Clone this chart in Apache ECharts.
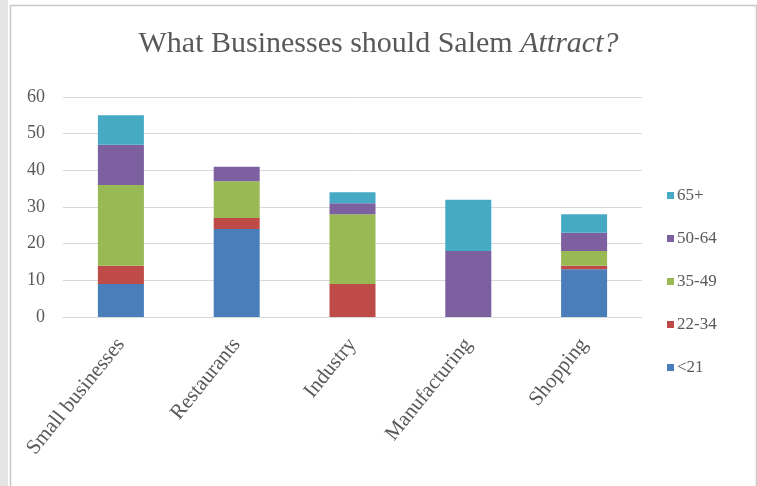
<!DOCTYPE html>
<html>
<head>
<meta charset="utf-8">
<script src="https://cdn.jsdelivr.net/npm/echarts@6/dist/echarts.min.js"></script>
<style>
  html, body { margin: 0; padding: 0; background: #ffffff; }
  #chart { width: 757px; height: 486px; }
</style>
</head>
<body>
<div id="chart"></div>
<script>
// Survey answers by age group
const categories = ['Small businesses', 'Restaurants', 'Industry', 'Manufacturing', 'Shopping'];
const under21 = [9, 24, 0, 0, 13];
const age22to34 = [5, 3, 9, 0, 1];
const age35to49 = [22, 10, 19, 0, 4];
const age50to64 = [11, 4, 3, 18, 5];
const age65plus = [8, 0, 3, 14, 5];
const seriesNames = ['<21', '22-34', '35-49', '50-64', '65+'];
const yTicks = [0, 10, 20, 30, 40, 50, 60];

const colors = ['#4A7EBB', '#BE4B48', '#98B954', '#7D60A0', '#46AAC5'];
const textColor = '#595959';
const serif = '"Liberation Serif", "DejaVu Serif", serif';

const chart = echarts.init(document.getElementById('chart'));
const values = [under21, age22to34, age35to49, age50to64, age65plus];

chart.setOption({
  animation: false,
  graphic: [
    { type: 'rect', left: 0, top: 0, shape: { width: 8, height: 486 }, style: { fill: '#e4e4e4' }, silent: true },
    { type: 'rect', left: 8, top: 3, shape: { width: 746, height: 490 }, style: { fill: 'none', stroke: '#c8c8c8', lineWidth: 1.5 }, silent: true }
  ],
  title: {
    text: 'What Businesses should Salem {i|Attract?}',
    left: 'center',
    top: 24,
    textStyle: {
      fontFamily: serif,
      fontSize: 30,
      fontWeight: 'normal',
      color: textColor,
      rich: { i: { fontFamily: serif, fontSize: 30, fontStyle: 'italic', color: textColor } }
    }
  },
  legend: {
    orient: 'vertical',
    left: 662,
    top: 182,
    itemWidth: 7,
    itemHeight: 7,
    itemGap: 26,
    icon: 'rect',
    data: ['65+', '50-64', '35-49', '22-34', '<21'],
    textStyle: { fontFamily: serif, fontSize: 17, color: textColor, padding: [0, 0, 0, -2] }
  },
  grid: { left: 63, right: 115, top: 97, bottom: 169, containLabel: false },
  xAxis: {
    type: 'category',
    data: categories,
    axisLine: { lineStyle: { color: '#d9d9d9', width: 1 } },
    axisTick: { show: false },
    axisLabel: {
      rotate: 51,
      margin: 24,
      fontFamily: serif,
      fontSize: 21,
      color: textColor,
      interval: 0
    }
  },
  yAxis: {
    type: 'value',
    min: yTicks[0],
    max: yTicks[yTicks.length - 1],
    interval: 10,
    axisLine: { show: false },
    axisTick: { show: false },
    splitLine: { lineStyle: { color: '#d9d9d9', width: 1 } },
    axisLabel: { fontFamily: serif, fontSize: 18, color: textColor, margin: 18 }
  },
  series: seriesNames.map((name, i) => ({
    name: name,
    type: 'bar',
    stack: 'total',
    barWidth: 46,
    data: values[i],
    itemStyle: { color: colors[i] }
  }))
});
</script>
</body>
</html>
